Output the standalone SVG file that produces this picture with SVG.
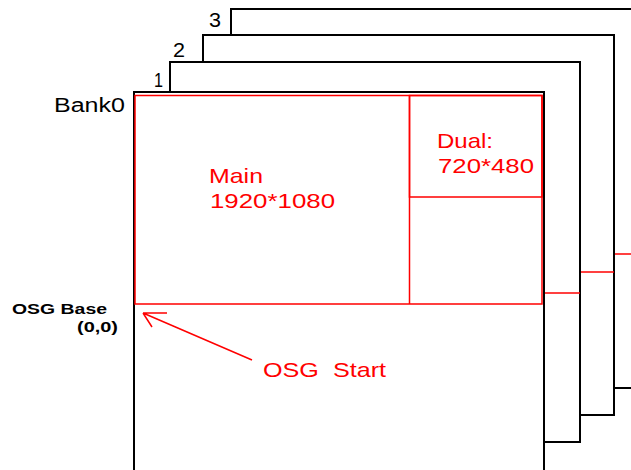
<svg xmlns="http://www.w3.org/2000/svg" width="631" height="470" viewBox="0 0 631 470">
<style>
.bk{fill:none;stroke:#000;stroke-width:2}
.rd{fill:none;stroke:#f00;stroke-width:1.5}
.t{font-family:"Liberation Sans",Arial,sans-serif;fill:#000}
.r{fill:#f00}
</style>
<rect width="631" height="470" fill="#fff"/>
<g id="bank3">
<path class="bk" d="M231,34 V9 H640 M614,388 H640"/>
<path class="rd" d="M614,254 H640"/>
<text class="t" x="209" y="27" font-size="20" textLength="12" lengthAdjust="spacingAndGlyphs">3</text>
</g>
<g id="bank2">
<path class="bk" d="M203,61 V35 H614 V415 H580"/>
<path class="rd" d="M580,272 H614"/>
<text class="t" x="173" y="57" font-size="20" textLength="12" lengthAdjust="spacingAndGlyphs">2</text>
</g>
<g id="bank1">
<path class="bk" d="M170,91 V62 H580 V442 H544"/>
<path class="rd" d="M544,293 H580"/>
<text class="t" x="154" y="87" font-size="20" textLength="9" lengthAdjust="spacingAndGlyphs">1</text>
</g>
<g id="bank0">
<path class="bk" d="M134,470 V92 H544 V470"/>
<text class="t" x="54" y="112" font-size="20" textLength="71" lengthAdjust="spacingAndGlyphs">Bank0</text>
</g>
<g id="main">
<path class="rd" d="M135,95.5 H542 V304 H135 Z M409.5,95.5 V304"/>
<text class="t r" x="209" y="183" font-size="21" textLength="54" lengthAdjust="spacingAndGlyphs">Main</text>
<text class="t r" x="210" y="208" font-size="21" textLength="125" lengthAdjust="spacingAndGlyphs">1920*1080</text>
</g>
<g id="dual">
<path class="rd" d="M409.5,95.5 H542 V197 H409.5 Z" stroke-width="2"/>
<text class="t r" x="437" y="148" font-size="21" textLength="56" lengthAdjust="spacingAndGlyphs">Dual:</text>
<text class="t r" x="438" y="173" font-size="21" textLength="96" lengthAdjust="spacingAndGlyphs">720*480</text>
</g>
<g id="osgbase">
<text class="t" x="12" y="314" font-size="14" font-weight="bold" textLength="95" lengthAdjust="spacingAndGlyphs">OSG Base</text>
<text class="t" x="77" y="332" font-size="14" font-weight="bold" textLength="41" lengthAdjust="spacingAndGlyphs">(0,0)</text>
</g>
<g id="connectors">
<path class="rd" d="M252,360 L143,313 M143,313 H167 M143,313 L152,327" stroke-width="1.3"/>
</g>
<g id="osgstart">
<text class="t r" x="263" y="377" font-size="21" textLength="123" lengthAdjust="spacingAndGlyphs" xml:space="preserve">OSG  Start</text>
</g>
</svg>
